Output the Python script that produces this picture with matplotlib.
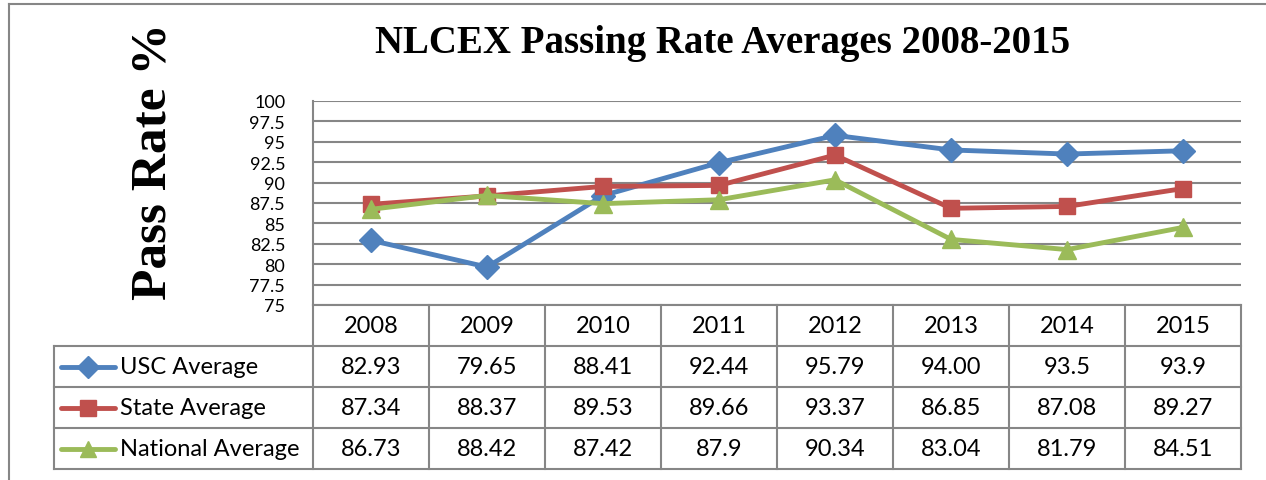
import numpy as np
import matplotlib.pyplot as plt
from matplotlib.lines import Line2D

years = ['2008', '2009', '2010', '2011', '2012', '2013', '2014', '2015']
usc = [82.93, 79.65, 88.41, 92.44, 95.79, 94.00, 93.5, 93.9]
state = [87.34, 88.37, 89.53, 89.66, 93.37, 86.85, 87.08, 89.27]
national = [86.73, 88.42, 87.42, 87.9, 90.34, 83.04, 81.79, 84.51]
usc_txt = ['82.93', '79.65', '88.41', '92.44', '95.79', '94.00', '93.5', '93.9']
state_txt = ['87.34', '88.37', '89.53', '89.66', '93.37', '86.85', '87.08', '89.27']
nat_txt = ['86.73', '88.42', '87.42', '87.9', '90.34', '83.04', '81.79', '84.51']
names = ['USC Average', 'State Average', 'National Average']

W, H = 1266, 481
grid_c = '#868686'
colors = ['#4F81BD', '#C0504D', '#9BBB59']
markers = ['D', 's', '^']
msizes = [12, 12, 13]
body = 'Lato'

fig = plt.figure(figsize=(W / 100, H / 100), dpi=100)

# outer frame
fig.add_artist(Line2D([9 / W, 9 / W], [0, 1 - 5 / H], color=grid_c, lw=1.5))
fig.add_artist(Line2D([9 / W, 1], [1 - 5 / H, 1 - 5 / H], color=grid_c, lw=1.5))

# main plot area
L, R, T, B = 313, 1241, 102, 306
ax = fig.add_axes([L / W, 1 - B / H, (R - L) / W, (B - T) / H])
x = np.arange(len(years))
for vals, c, m, ms, n in zip([usc, state, national], colors, markers, msizes, names):
    ax.plot(x, vals, color=c, lw=3.5, marker=m, ms=ms, label=n)
ax.set_xlim(-0.5, len(years) - 0.5)
ax.set_ylim(75, 100)
ax.set_yticks(np.arange(75, 100.1, 2.5))
ax.set_yticklabels(['75', '77.5', '80', '82.5', '85', '87.5', '90', '92.5', '95', '97.5', '100'],
                   fontfamily=body, fontsize=13)
ax.set_xticks([])
ax.tick_params(axis='y', length=0, pad=20)
ax.grid(axis='y', color=grid_c, lw=1.5)
ax.set_axisbelow(True)
for s in ['top', 'right', 'bottom']:
    ax.spines[s].set_visible(False)
ax.spines['left'].set_color(grid_c)
ax.spines['left'].set_linewidth(1.5)

# data table
TL, TB = 54, 470
colw = (R - L) / len(years)
tx0 = -0.5 - (L - TL) / colw
at = fig.add_axes([TL / W, 1 - TB / H, (R - TL) / W, (TB - B) / H])
at.set_xlim(tx0, len(years) - 0.5)
at.set_ylim(0, 4)
at.axis('off')
lk = dict(color=grid_c, lw=1.5, clip_on=False)
at.plot([-0.5, len(years) - 0.5], [4, 4], **lk)
for yy in [0, 1, 2, 3]:
    at.plot([tx0, len(years) - 0.5], [yy, yy], **lk)
for i in range(len(years) + 1):
    at.plot([i - 0.5, i - 0.5], [0, 4], **lk)
at.plot([tx0, tx0], [0, 3], **lk)

fs = 17
for i, yr in enumerate(years):
    at.text(i, 3.5, yr, ha='center', va='center', fontfamily=body, fontsize=fs)
rows = [usc_txt, state_txt, nat_txt]
for r, (txts, c, m, n) in enumerate(zip(rows, colors, markers, names)):
    yc = 2.5 - r
    for i, t in enumerate(txts):
        at.text(i, yc, t, ha='center', va='center', fontfamily=body, fontsize=fs)
    k0 = tx0 + 7 / colw
    k1 = tx0 + 61 / colw
    at.plot([k0, k1], [yc, yc], color=c, lw=3.5, solid_capstyle='round', clip_on=False)
    at.plot([(k0 + k1) / 2], [yc], marker=m, color=c, ms=[11, 12, 12][r], clip_on=False)
    at.text(tx0 + 66 / colw, yc, n, ha='left', va='center', fontfamily=body, fontsize=fs)

fig.text(723 / W, 1 - 43 / H, 'NLCEX Passing Rate Averages 2008-2015', ha='center', va='center',
         fontfamily='Liberation Serif', fontweight='bold', fontsize=28)
fig.text(153 / W, 1 - 162 / H, 'Pass Rate %', ha='center', va='center', rotation=90,
         fontfamily='Liberation Serif', fontweight='bold', fontsize=37)

fig.savefig('out.png', dpi=100)
